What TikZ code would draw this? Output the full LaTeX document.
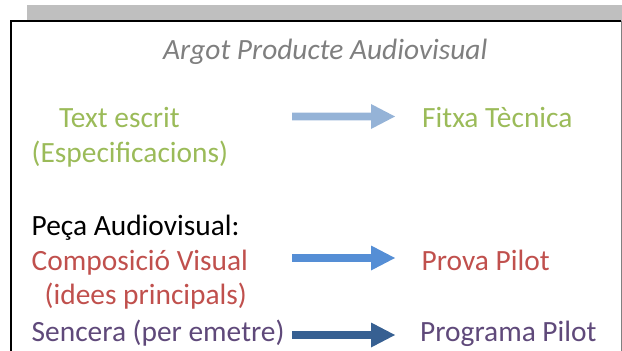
\documentclass[tikz,border=0pt]{standalone}
\usepackage{fontspec}
\setmainfont{Carlito}
\definecolor{titlegray}{HTML}{7F7F7F}
\definecolor{barGray}{HTML}{BFBFBF}
\definecolor{txtgreen}{HTML}{9BBB59}
\definecolor{txtred}{HTML}{C0504D}
\definecolor{txtpurple}{HTML}{5F497A}
\definecolor{arrA}{HTML}{95B3D7}
\definecolor{arrB}{HTML}{558ED5}
\definecolor{arrC}{HTML}{376092}
\begin{document}
\begin{tikzpicture}[x=1pt,y=-1pt,
  lbl/.style={anchor=base west,inner sep=0pt,font=\fontsize{29.4}{34}\selectfont},
  ttl/.style={anchor=base west,inner sep=0pt,font=\fontsize{29.4}{34}\selectfont\itshape,text=titlegray}]
\useasboundingbox (0,0) rectangle (622,351);
% grey bar and frame
\fill[barGray] (27,5) rectangle (622,21);
\draw[line width=2pt,black] (11,380) -- (11,21) -- (621,21);
\draw[line width=1pt,gray] (621,21) -- (621,380);
% title
\node[ttl] (title) at (163,59.5) {Argot Producte Audiovisual};
% texts
\node[lbl,text=txtgreen] (text) at (59,127.5) {Text escrit};
\node[lbl,text=txtgreen] (espec) at (31.5,162) {(Especificacions)};
\node[lbl,text=txtgreen] (fitxa) at (422,127.5) {Fitxa Tècnica};
\node[lbl,text=black] (peca) at (31.5,235.5) {Peça Audiovisual:};
\node[lbl,text=txtred] (comp) at (31.5,270) {Composició Visual};
\node[lbl,text=txtred] (idees) at (44.5,304) {(idees principals)};
\node[lbl,text=txtred] (prova) at (421.5,270) {Prova Pilot};
\node[lbl,text=txtpurple] (sencera) at (31.5,341.5) {Sencera (per emetre)};
\node[lbl,text=txtpurple] (programa) at (420,341.5) {Programa Pilot};
% block arrows
\foreach \yy/\cc/\nm in {116.5/arrA/a, 258/arrB/b, 335/arrC/c}{
  \coordinate (\nm s) at (292,\yy);
  \coordinate (\nm t) at (395,\yy);
  \fill[\cc] ([yshift=-3.8pt]\nm s) -- ([xshift=-24pt,yshift=-3.8pt]\nm t)
     -- ([xshift=-24pt,yshift=-12.5pt]\nm t) -- (\nm t)
     -- ([xshift=-24pt,yshift=12.5pt]\nm t) -- ([xshift=-24pt,yshift=3.8pt]\nm t)
     -- ([yshift=3.8pt]\nm s) -- cycle;
}
\end{tikzpicture}
\end{document}
